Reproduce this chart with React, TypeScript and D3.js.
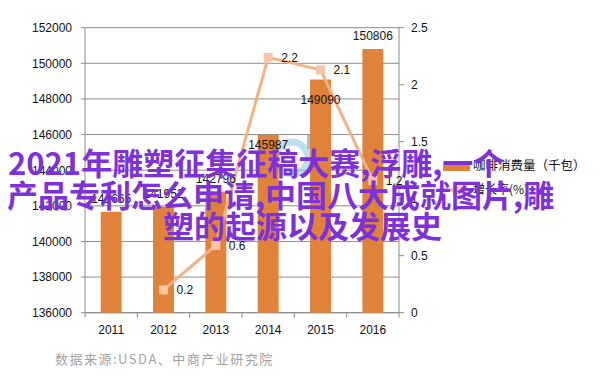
import React from "react";
import * as d3 from "d3";

// 咖啡消费量（千包）与增长率
const years = ["2011", "2012", "2013", "2014", "2015", "2016"];
const consumption = [141665, 141952, 142796, 145987, 149090, 150806];
const growthYears = ["2012", "2013", "2014", "2015", "2016"];
const growth = [0.2, 0.59, 2.24, 2.13, 1.16];
const leftTicks = [136000, 138000, 140000, 142000, 144000, 146000, 148000, 150000, 152000];
const rightTicks = [0, 0.5, 1, 1.5, 2, 2.5];
const seriesNames = ["咖啡消费量（千包）", "增长率(%)"];
const titleLines = ["2021年雕塑征集征稿大赛,浮雕,一个", "产品专利怎么申请,中国八大成就图片,雕", "塑的起源以及发展史"];
const sourceText = "数据来源:USDA、中商产业研究院";

// label placement for bar values: dy from bar top (Excel put some inside)
const barLabelDy = [-9, -9, -9, 14, 24, -9];

const W = 602;
const H = 384;
const m = { left: 85, right: 399, top: 27.7, bottom: 312.7 };
const BAR = "#e0823a";
const LINE = "#f4b183";
const MARK = "#f9c4a4";
const GRID = "#8c8c8c";
const NUM_FONT = "'Liberation Sans', Arial, sans-serif";
const CJK_FONT = "'Noto Sans CJK SC', sans-serif";

const App: React.FC = () => {
  const x = d3.scaleBand().domain(years).range([m.left, m.right]).padding(0);
  const yL = d3.scaleLinear().domain([136000, 152000]).range([m.bottom, m.top]);
  const yR = d3.scaleLinear().domain([0, 2.5]).range([m.bottom, m.top]);
  const bw = x.bandwidth() * 0.4;
  const cx = (d: string) => (x(d) || 0) + x.bandwidth() / 2;

  const pts: [number, number][] = growthYears.map((yr, i) => [cx(yr), yR(growth[i])]);
  const line = d3.line<[number, number]>()(pts) || "";
  const fmt1 = d3.format(".1f");

  return (
    <div style={{ position: "absolute", left: 0, top: 0, width: W, height: H, background: "#fff" }}>
      <svg width={W} height={H} style={{ display: "block" }}>
        <rect width={W} height={H} fill="#fff" />

        {/* grid + left axis */}
        {leftTicks.map((t) => (
          <g key={t}>
            <line x1={m.left - 4} x2={m.right} y1={yL(t)} y2={yL(t)} stroke={GRID} strokeWidth={1} />
            <text x={72} y={yL(t) + 4.3} textAnchor="end" fontFamily={NUM_FONT} fontSize={12} fill="#111">
              {t}
            </text>
          </g>
        ))}
        <line x1={m.left} x2={m.left} y1={m.top} y2={m.bottom} stroke={GRID} />

        {/* right axis */}
        <line x1={m.right} x2={m.right} y1={m.top} y2={m.bottom} stroke={GRID} />
        {rightTicks.map((t) => (
          <g key={t}>
            <line x1={m.right} x2={m.right + 5} y1={yR(t)} y2={yR(t)} stroke={GRID} />
            <text x={411} y={yR(t) + 4.3} fontFamily={NUM_FONT} fontSize={12} fill="#111">
              {t}
            </text>
          </g>
        ))}

        {/* x axis */}
        <line x1={m.left} x2={m.right} y1={m.bottom} y2={m.bottom} stroke={GRID} />
        {years.concat(["end"]).map((yr, i) => {
          const xx = m.left + i * x.bandwidth();
          return <line key={yr} x1={xx} x2={xx} y1={m.bottom} y2={m.bottom + 5} stroke={GRID} />;
        })}
        {years.map((yr) => (
          <text key={yr} x={cx(yr)} y={334} textAnchor="middle" fontFamily={NUM_FONT} fontSize={12} fill="#111">
            {yr}
          </text>
        ))}

        {/* watermark */}
        <circle cx={292} cy={158} r={16} fill="none" stroke="#8fcbe8" strokeWidth={7} opacity={0.6} />
        <rect x={307} y={135} width={10} height={14} fill="#9aa0a4" opacity={0.7} />

        {/* bars */}
        {years.map((yr, i) => (
          <rect
            key={yr}
            x={cx(yr) - bw / 2}
            y={yL(consumption[i])}
            width={bw}
            height={m.bottom - yL(consumption[i])}
            fill={BAR}
          />
        ))}

        {/* growth line */}
        <path d={line} fill="none" stroke={LINE} strokeWidth={3} strokeLinejoin="round" />
        {pts.map(([px, py], i) => (
          <rect key={i} x={px - 4.5} y={py - 4.5} width={9} height={9} fill={MARK} />
        ))}

        {/* bar labels */}
        {years.map((yr, i) => (
          <text
            key={yr}
            x={cx(yr)}
            y={yL(consumption[i]) + barLabelDy[i]}
            textAnchor="middle"
            fontFamily={NUM_FONT}
            fontSize={12}
            fill="#111"
          >
            {consumption[i]}
          </text>
        ))}

        {/* line labels */}
        {pts.map(([px, py], i) => (
          <text key={i} x={px + 13} y={py + 4.3} fontFamily={NUM_FONT} fontSize={12} fill="#111">
            {fmt1(growth[i])}
          </text>
        ))}

        {/* legend */}
        <rect x={443} y={165} width={27} height={6} fill={BAR} />
        <text x={473} y={170} fontFamily={CJK_FONT} fontSize={12.5} fill="#111">
          {seriesNames[0]}
        </text>
        <line x1={444} x2={470} y1={190} y2={190} stroke={LINE} strokeWidth={3} />
        <rect x={452.5} y={185.5} width={9} height={9} fill={MARK} />
        <text x={473} y={194} fontFamily={CJK_FONT} fontSize={12} fill="#111">
          {seriesNames[1]}
        </text>

        {/* source */}
        <text x={55} y={364} fontFamily={CJK_FONT} fontSize={13} letterSpacing={1.5} fill="#a2a2a2">
          {sourceText}
        </text>

        {/* overlay title */}
        <g fontFamily={CJK_FONT} fontWeight={700} fontSize={31} fill="#7e30d9">
          <text x={8} y={175}>{titleLines[0]}</text>
          <text x={7} y={207}>{titleLines[1]}</text>
          <text x={163} y={238}>{titleLines[2]}</text>
        </g>
      </svg>
    </div>
  );
};

export default App;
